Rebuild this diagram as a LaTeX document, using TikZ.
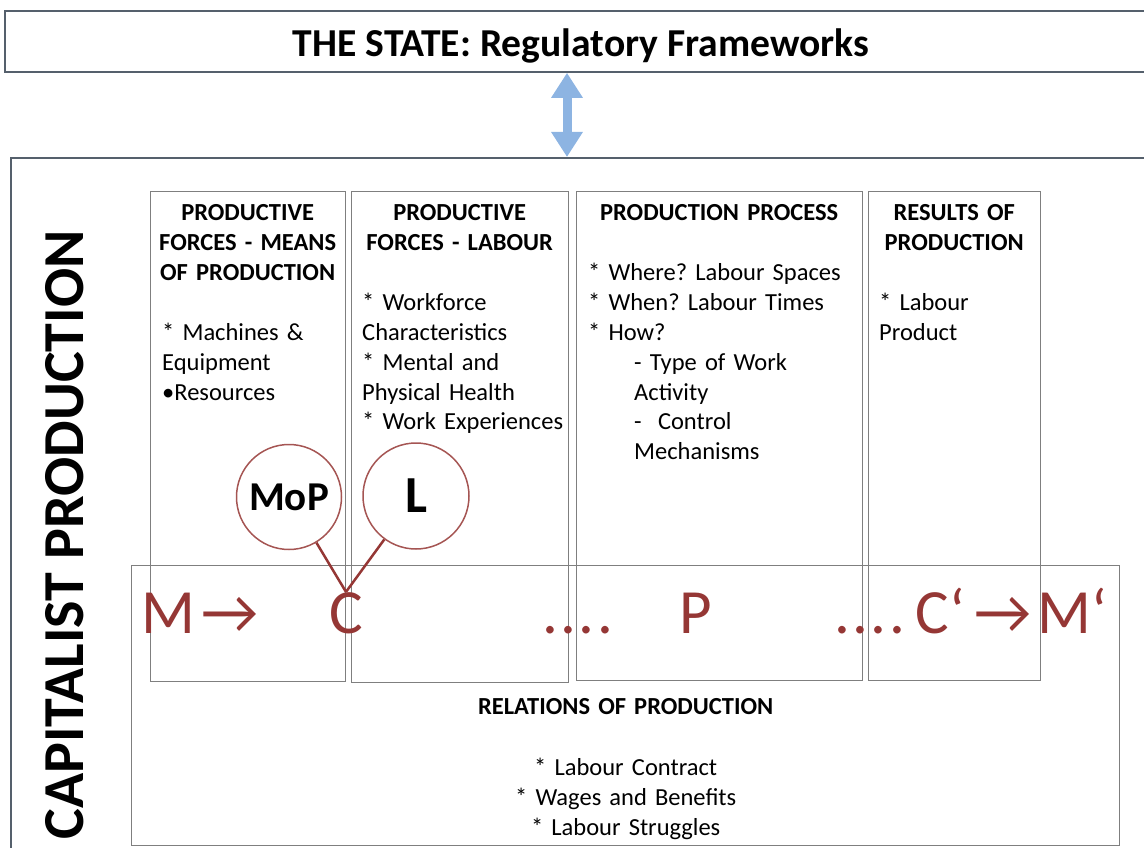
\documentclass[tikz,border=0pt]{standalone}
\usepackage{fontspec}
\setmainfont{Carlito}
\usetikzlibrary{positioning,arrows.meta}
\definecolor{framegray}{HTML}{55606C}
\definecolor{boxgray}{HTML}{7F7F7F}
\definecolor{cyclered}{HTML}{953735}
\definecolor{arrowblue}{HTML}{8DB4E2}
\newcommand{\colhead}[1]{{\centering\bfseries\advance\leftskip by -14pt
  \advance\rightskip by -14pt #1\par}\vspace{30pt}\raggedright}

\begin{document}
\frenchspacing
\hyphenpenalty=10000
\begin{tikzpicture}[x=1pt,y=-1pt,
  %%Estilos
  outerframe/.style = {draw=framegray, line width=1.8pt, anchor=north west, inner sep=0pt},
  colbox/.style     = {draw=boxgray, line width=1.4pt, anchor=north west, inner sep=0pt},
  coltext/.style    = {anchor=base west, inner sep=0pt,
    font=\fontsize{24.5}{30}\selectfont},
  cycle/.style      = {anchor=base west, inner sep=0pt, text=cyclered,
    font=\fontsize{63}{63}\selectfont},
  phase/.style      = {circle, draw=cyclered!85, line width=1.5pt, inner sep=0pt,
    minimum size=105pt},
  stem/.style       = {draw=cyclered, line width=2.5pt},
  updown/.style     = {draw=arrowblue, line width=9pt,
    {Triangle[width=30pt,length=25pt]}-{Triangle[width=30pt,length=25pt]}}
]
  \useasboundingbox (0,0) rectangle (1144,848);
  \clip (0,0) rectangle (1144,848);

  %%Marcos
  \node[outerframe, minimum width=1160pt, minimum height=61pt] (state) at (4,10) {};
  \node[inner sep=0pt, anchor=base, font=\bfseries\fontsize{39.6}{40}\selectfont]
    (statetitle) at (581,57) {THE STATE: Regulatory Frameworks};
  \node[outerframe, minimum width=1160pt, minimum height=720pt] (cap) at (10,157) {};
  \node[rotate=90, inner sep=0pt, font=\bfseries\fontsize{58}{58}\selectfont]
    (captitle) at (65,535) {CAPITALIST PRODUCTION};

  \coordinate (arrx) at (567,0);
  \draw[updown] (state.south -| arrx) -- (cap.north -| arrx);

  %%Columnas
  \node[colbox, minimum width=195pt, minimum height=490pt] (mopbox) at (150,191) {};
  \node[colbox, minimum width=217pt, minimum height=491pt] (labbox) at (351,191) {};
  \node[colbox, minimum width=286pt, minimum height=489pt] (procbox) at (576,191) {};
  \node[colbox, minimum width=172pt, minimum height=489pt] (resbox) at (868,191) {};
  \node[colbox, minimum width=988pt, minimum height=280pt] (relbox) at (131,565) {};

  \node[coltext, text width=171pt] (moptext) at ([shift={(12,29)}]mopbox.north west) {%
    \colhead{PRODUCTIVE\\FORCES - MEANS\\OF PRODUCTION}
    {*} Machines \&\\Equipment\\•Resources};
  \node[coltext, text width=195pt] (labtext) at ([shift={(11,29)}]labbox.north west) {%
    \colhead{PRODUCTIVE\\FORCES - LABOUR}
    {*} Workforce\\Characteristics\\{*} Mental and\\Physical Health\\%
    \mbox{{*} Work Experiences}};
  \node[coltext, text width=262pt] (proctext) at ([shift={(12,29)}]procbox.north west) {%
    \colhead{PRODUCTION PROCESS}
    {*} Where? Labour Spaces\\{*} When? Labour Times\\{*} How?\par
    {\leftskip=46pt - Type of Work\\Activity\\-~~Control\\Mechanisms\par}};
  \node[coltext, text width=150pt] (restext) at ([shift={(11,29)}]resbox.north west) {%
    \colhead{RESULTS OF\\PRODUCTION}
    {*} Labour\\Product};
  \node[coltext, anchor=base, text width=988pt, align=center] (reltext)
    at ([shift={(0,149)}]relbox.north) {%
    \textbf{RELATIONS OF PRODUCTION}\\[31pt]
    {*} Labour Contract\\{*} Wages and Benefits\\{*} Labour Struggles};

  %%Circuito
  \node[phase, font=\bfseries\fontsize{41}{41}\selectfont] (mopc) at (289,497) {MoP};
  \node[phase, minimum size=106pt, font=\bfseries\fontsize{52}{52}\selectfont] (labc) at (416,496) {L};
  \node[cycle] (mtext) at (141,633) {M\kern6pt→};
  \node[cycle] (ctext) at (329,633) {C};
  \node[cycle] (dotsa) at (542,633) {.\kern2.5pt.\kern2.5pt.\kern2.5pt.};
  \node[cycle] (ptext) at (679,633) {P};
  \node[cycle] (endtext) at (834,633) {.\kern2.5pt.\kern2.5pt.\kern2.5pt.\kern10pt C‘\kern10pt→\kern6pt M‘};
  \draw[stem] (mopc) -- (ctext.north);
  \draw[stem] (labc) -- (ctext.north);
\end{tikzpicture}
\end{document}
